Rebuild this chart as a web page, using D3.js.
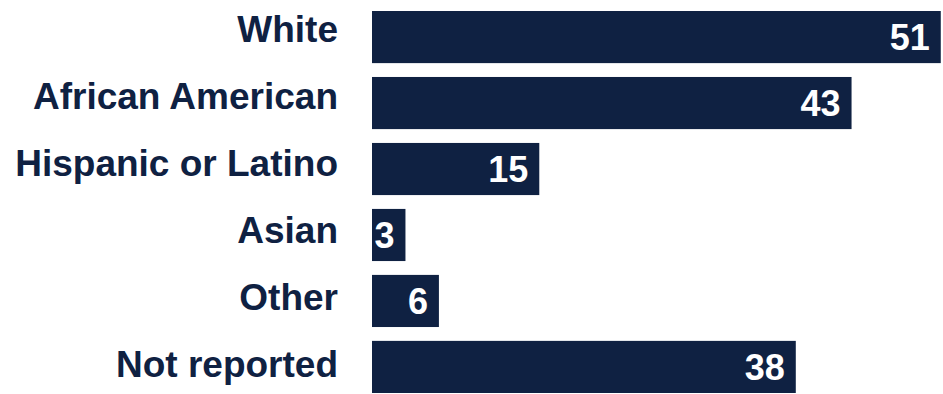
<!DOCTYPE html>
<html>
<head>
<meta charset="utf-8">
<script src="https://cdn.jsdelivr.net/npm/d3@7"></script>
<style>
  html, body { margin: 0; padding: 0; background: #ffffff; }
  svg { display: block; }
  text { font-family: "Liberation Sans", Arial, Helvetica, sans-serif; font-weight: bold; }
</style>
</head>
<body>
<svg id="chart" width="943" height="394"></svg>
<script>
// Respondents by race / ethnicity
const categories = ["White", "African American", "Hispanic or Latino", "Asian", "Other", "Not reported"];
const counts = [51, 43, 15, 3, 6, 38];

const W = 943, H = 394;
const navy = "#0f2142";
const svg = d3.select("#chart");

const x = d3.scaleLinear().domain([0, 51.2]).range([372, W]);
const y = d3.scaleBand().domain(categories).range([11, 393]).paddingInner(0.21).paddingOuter(0);
// Category names sit on their own evenly spaced baselines
const yLabel = d3.scalePoint().domain(categories).range([42, 377]);

const rows = categories.map((c, i) => ({ cat: c, value: counts[i] }));

svg.selectAll("rect.bar")
  .data(rows)
  .join("rect")
  .attr("class", "bar")
  .attr("x", x(0))
  .attr("y", d => y(d.cat))
  .attr("width", d => x(d.value) - x(0))
  .attr("height", y.bandwidth())
  .attr("fill", navy);

svg.selectAll("text.value")
  .data(rows)
  .join("text")
  .attr("class", "value")
  .attr("x", d => x(d.value) - 11)
  .attr("y", d => y(d.cat) + y.bandwidth() / 2)
  .attr("dy", "0.36em")
  .attr("text-anchor", "end")
  .attr("fill", "#ffffff")
  .style("font-size", "36px")
  .text(d => d.value);

svg.selectAll("text.cat")
  .data(rows)
  .join("text")
  .attr("class", "cat")
  .attr("x", 338)
  .attr("y", d => yLabel(d.cat))
  .attr("text-anchor", "end")
  .attr("fill", navy)
  .style("font-size", "37px")
  .text(d => d.cat);
</script>
</body>
</html>
